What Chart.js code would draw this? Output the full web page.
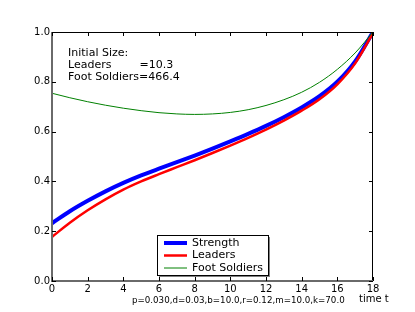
<!DOCTYPE html>
<html lang="en">
  <head>
    <meta charset="UTF-8" />
    <script src="https://cdn.jsdelivr.net/npm/chart.js"></script>
    <style>
      body {
        margin: 0;
        padding: 0;
        background-color: #ffffff;
      }
      #wrap {
        width: 415px;
        height: 312px;
      }
    </style>
  </head>
  <body>
    <div id="wrap"><canvas id="chart" width="415" height="312"></canvas></div>

    <script>
      const times = [0, 1, 2, 3, 4, 5, 6, 7, 8, 9, 10, 11, 12, 13, 14, 15, 16, 17, 18];
      const strength = [0.232, 0.28, 0.322, 0.36, 0.394, 0.424, 0.451, 0.477, 0.504, 0.532, 0.561, 0.591, 0.623, 0.658, 0.697, 0.742, 0.8, 0.882, 1.0];
      const leaders = [0.177, 0.234, 0.284, 0.328, 0.367, 0.4, 0.429, 0.457, 0.485, 0.514, 0.544, 0.575, 0.608, 0.644, 0.684, 0.73, 0.79, 0.874, 0.996];
      const footSoldiers = [0.754, 0.736, 0.72, 0.706, 0.694, 0.684, 0.676, 0.671, 0.669, 0.671, 0.677, 0.688, 0.705, 0.728, 0.758, 0.798, 0.85, 0.916, 1.0];
      const xTicks = [0, 2, 4, 6, 8, 10, 12, 14, 16, 18];
      const yTicks = [0.0, 0.2, 0.4, 0.6, 0.8, 1.0];

      const infoLines = ["Initial Size:", "Leaders        =10.3", "Foot Soldiers=466.4"];
      const paramText = "p=0.030,d=0.03,b=10.0,r=0.12,m=10.0,k=70.0";
      const xLabel = "time t";

      const font = "'DejaVu Sans', sans-serif";

      const toPoints = vals => times.map((t, i) => ({ x: t, y: vals[i] }));

      // frame, inner ticks, legend box and the extra texts
      const decor = {
        id: "decor",
        afterDatasetsDraw(chart) {
          const { ctx, chartArea: a, scales } = chart;
          ctx.save();
          // top and right spines are crisp, left and bottom look soft/grey
          ctx.strokeStyle = "#000";
          ctx.lineWidth = 1;
          ctx.beginPath();
          ctx.moveTo(a.left, a.top + 0.5); ctx.lineTo(a.right - 0.5, a.top + 0.5); ctx.lineTo(a.right - 0.5, a.bottom);
          ctx.stroke();
          ctx.strokeStyle = "#6a6a6a";
          ctx.lineWidth = 2;
          ctx.beginPath();
          ctx.moveTo(a.left, a.top); ctx.lineTo(a.left, a.bottom); ctx.lineTo(a.right, a.bottom);
          ctx.stroke();

          ctx.strokeStyle = "#000";
          ctx.lineWidth = 1;
          ctx.beginPath();
          xTicks.forEach(v => {
            const x = Math.round(scales.x.getPixelForValue(v)) + 0.5;
            ctx.moveTo(x, a.bottom); ctx.lineTo(x, a.bottom - 4);
            ctx.moveTo(x, a.top); ctx.lineTo(x, a.top + 4);
          });
          yTicks.forEach(v => {
            const y = Math.round(scales.y.getPixelForValue(v)) + 0.5;
            ctx.moveTo(a.left, y); ctx.lineTo(a.left + 4, y);
            ctx.moveTo(a.right, y); ctx.lineTo(a.right - 4, y);
          });
          ctx.stroke();

          // info text
          ctx.fillStyle = "#000";
          ctx.font = "11px " + font;
          ctx.textBaseline = "middle";
          infoLines.forEach((s, i) => ctx.fillText(s, 68, 53 + i * 12));

          // legend
          const lx = 157, ly = 235, lw = 111, lh = 40;
          ctx.fillStyle = "#808080";
          ctx.fillRect(lx + 2, ly + 2, lw, lh);
          ctx.fillStyle = "#fff";
          ctx.fillRect(lx, ly, lw, lh);
          ctx.strokeStyle = "#000";
          ctx.strokeRect(lx + 0.5, ly + 0.5, lw, lh);
          chart.data.datasets.forEach((d, i) => {
            const y = 243 + i * 12.5;
            ctx.beginPath();
            ctx.strokeStyle = d.borderColor;
            ctx.lineWidth = d.borderWidth;
            ctx.moveTo(164, y); ctx.lineTo(187, y);
            ctx.stroke();
            ctx.fillStyle = "#000";
            ctx.fillText(d.label, 192, y);
          });

          ctx.font = "10px " + font;
          ctx.fillText(xLabel, 359, 299);
          ctx.font = "8.7px " + font;
          ctx.fillText(paramText, 132, 300.5);
          ctx.restore();
        }
      };

      new Chart(document.getElementById("chart"), {
        type: "line",
        data: {
          datasets: [
            { label: "Strength", data: toPoints(strength), borderColor: "#0000ff", borderWidth: 4, order: 3 },
            { label: "Leaders", data: toPoints(leaders), borderColor: "#ff0000", borderWidth: 2.5, order: 2 },
            { label: "Foot Soldiers", data: toPoints(footSoldiers), borderColor: "#008000", borderWidth: 1, order: 1 }
          ]
        },
        options: {
          responsive: false,
          animation: false,
          events: [],
          layout: { padding: { top: 32, right: 42, left: 0, bottom: 0 } },
          elements: {
            point: { radius: 0 },
            line: { tension: 0.4, cubicInterpolationMode: "monotone", fill: false }
          },
          plugins: { legend: { display: false }, tooltip: { enabled: false } },
          scales: {
            x: {
              type: "linear",
              min: 0,
              max: 18,
              afterBuildTicks: s => { s.ticks = xTicks.map(v => ({ value: v })); },
              afterFit: s => { s.height = 31; },
              grid: { display: false, drawTicks: false },
              border: { display: false },
              ticks: { color: "#000", font: { family: font, size: 10 }, padding: 2, maxRotation: 0, autoSkip: false }
            },
            y: {
              min: 0,
              max: 1,
              afterBuildTicks: s => { s.ticks = yTicks.map(v => ({ value: v })); },
              afterFit: s => { s.width = 52; },
              grid: { display: false, drawTicks: false },
              border: { display: false },
              ticks: { color: "#000", font: { family: font, size: 10 }, padding: 2, callback: v => v.toFixed(1) }
            }
          }
        },
        plugins: [decor]
      });
    </script>
  </body>
</html>
